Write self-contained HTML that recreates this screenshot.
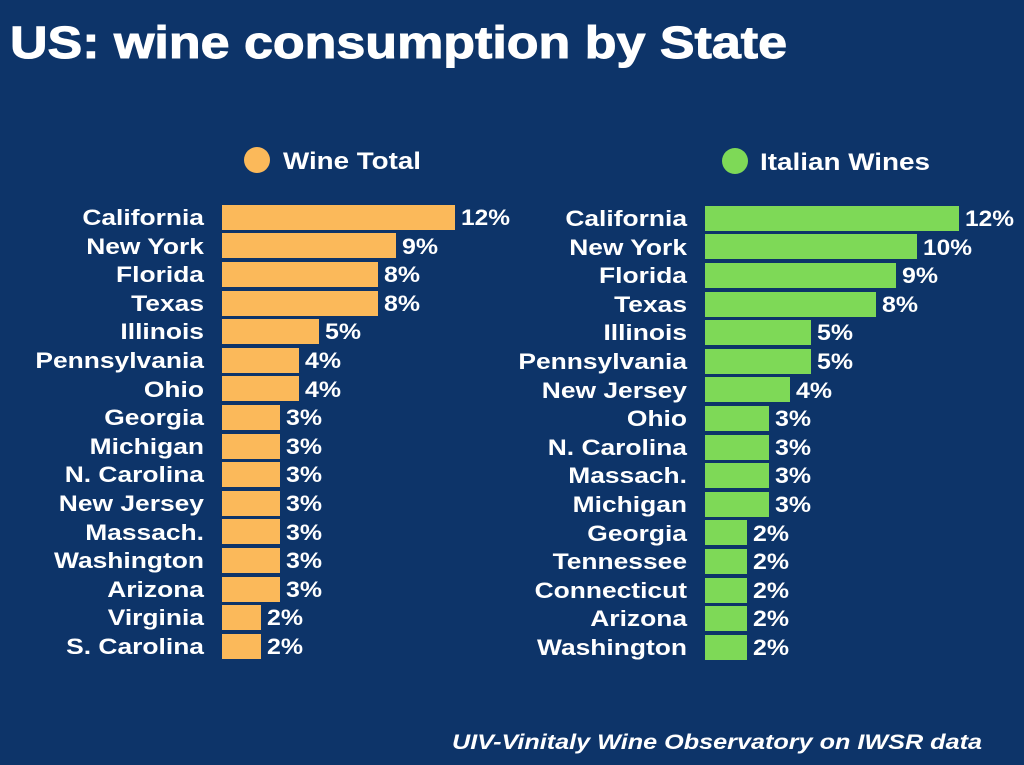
<!DOCTYPE html>
<html><head><meta charset="utf-8"><style>
html,body{margin:0;padding:0;background:#0d3469;}
svg{display:block;font-family:"Liberation Sans",sans-serif;font-weight:bold;}
</style></head><body>
<svg width="1024" height="765" viewBox="0 0 1024 765">
<rect width="1024" height="765" fill="#0d3469"/>
<text x="10" y="58" fill="#fff" stroke="#fff" stroke-width="1" font-size="45" textLength="777" lengthAdjust="spacingAndGlyphs">US: wine consumption by State</text>
<circle cx="257" cy="160" r="13" fill="#fbb95a"/>
<text x="283" y="169" fill="#fff" font-size="24" textLength="138" lengthAdjust="spacingAndGlyphs">Wine Total</text>
<circle cx="735" cy="161" r="13" fill="#7ed957"/>
<text x="760" y="170" fill="#fff" font-size="24" textLength="170" lengthAdjust="spacingAndGlyphs">Italian Wines</text>
<g font-size="22" fill="#fff" text-anchor="end">
<g transform="translate(204,0) scale(1.2,1) translate(-204,0)">
<text x="204" y="225">California</text>
<text x="204" y="254">New York</text>
<text x="204" y="282">Florida</text>
<text x="204" y="311">Texas</text>
<text x="204" y="339">Illinois</text>
<text x="204" y="368">Pennsylvania</text>
<text x="204" y="397">Ohio</text>
<text x="204" y="425">Georgia</text>
<text x="204" y="454">Michigan</text>
<text x="204" y="482">N. Carolina</text>
<text x="204" y="511">New Jersey</text>
<text x="204" y="540">Massach.</text>
<text x="204" y="568">Washington</text>
<text x="204" y="597">Arizona</text>
<text x="204" y="625">Virginia</text>
<text x="204" y="654">S. Carolina</text>
</g>
<g transform="translate(687,0) scale(1.2,1) translate(-687,0)">
<text x="687" y="226">California</text>
<text x="687" y="255">New York</text>
<text x="687" y="283">Florida</text>
<text x="687" y="312">Texas</text>
<text x="687" y="340">Illinois</text>
<text x="687" y="369">Pennsylvania</text>
<text x="687" y="398">New Jersey</text>
<text x="687" y="426">Ohio</text>
<text x="687" y="455">N. Carolina</text>
<text x="687" y="483">Massach.</text>
<text x="687" y="512">Michigan</text>
<text x="687" y="541">Georgia</text>
<text x="687" y="569">Tennessee</text>
<text x="687" y="598">Connecticut</text>
<text x="687" y="626">Arizona</text>
<text x="687" y="655">Washington</text>
</g>
</g>
<g fill="#fbb95a">
<rect x="222" y="205" width="233" height="25"/>
<rect x="222" y="233" width="174" height="25"/>
<rect x="222" y="262" width="156" height="25"/>
<rect x="222" y="291" width="156" height="25"/>
<rect x="222" y="319" width="97" height="25"/>
<rect x="222" y="348" width="77" height="25"/>
<rect x="222" y="376" width="77" height="25"/>
<rect x="222" y="405" width="58" height="25"/>
<rect x="222" y="434" width="58" height="25"/>
<rect x="222" y="462" width="58" height="25"/>
<rect x="222" y="491" width="58" height="25"/>
<rect x="222" y="519" width="58" height="25"/>
<rect x="222" y="548" width="58" height="25"/>
<rect x="222" y="577" width="58" height="25"/>
<rect x="222" y="605" width="39" height="25"/>
<rect x="222" y="634" width="39" height="25"/>
</g>
<g fill="#7ed957">
<rect x="705" y="206" width="254" height="25"/>
<rect x="705" y="234" width="212" height="25"/>
<rect x="705" y="263" width="191" height="25"/>
<rect x="705" y="292" width="171" height="25"/>
<rect x="705" y="320" width="106" height="25"/>
<rect x="705" y="349" width="106" height="25"/>
<rect x="705" y="377" width="85" height="25"/>
<rect x="705" y="406" width="64" height="25"/>
<rect x="705" y="435" width="64" height="25"/>
<rect x="705" y="463" width="64" height="25"/>
<rect x="705" y="492" width="64" height="25"/>
<rect x="705" y="520" width="42" height="25"/>
<rect x="705" y="549" width="42" height="25"/>
<rect x="705" y="578" width="42" height="25"/>
<rect x="705" y="606" width="42" height="25"/>
<rect x="705" y="635" width="42" height="25"/>
</g>
<g font-size="22" fill="#fff">
<text x="461" y="225" textLength="49" lengthAdjust="spacingAndGlyphs">12%</text>
<text x="402" y="254" textLength="36" lengthAdjust="spacingAndGlyphs">9%</text>
<text x="384" y="282" textLength="36" lengthAdjust="spacingAndGlyphs">8%</text>
<text x="384" y="311" textLength="36" lengthAdjust="spacingAndGlyphs">8%</text>
<text x="325" y="339" textLength="36" lengthAdjust="spacingAndGlyphs">5%</text>
<text x="305" y="368" textLength="36" lengthAdjust="spacingAndGlyphs">4%</text>
<text x="305" y="397" textLength="36" lengthAdjust="spacingAndGlyphs">4%</text>
<text x="286" y="425" textLength="36" lengthAdjust="spacingAndGlyphs">3%</text>
<text x="286" y="454" textLength="36" lengthAdjust="spacingAndGlyphs">3%</text>
<text x="286" y="482" textLength="36" lengthAdjust="spacingAndGlyphs">3%</text>
<text x="286" y="511" textLength="36" lengthAdjust="spacingAndGlyphs">3%</text>
<text x="286" y="540" textLength="36" lengthAdjust="spacingAndGlyphs">3%</text>
<text x="286" y="568" textLength="36" lengthAdjust="spacingAndGlyphs">3%</text>
<text x="286" y="597" textLength="36" lengthAdjust="spacingAndGlyphs">3%</text>
<text x="267" y="625" textLength="36" lengthAdjust="spacingAndGlyphs">2%</text>
<text x="267" y="654" textLength="36" lengthAdjust="spacingAndGlyphs">2%</text>
<text x="965" y="226" textLength="49" lengthAdjust="spacingAndGlyphs">12%</text>
<text x="923" y="255" textLength="49" lengthAdjust="spacingAndGlyphs">10%</text>
<text x="902" y="283" textLength="36" lengthAdjust="spacingAndGlyphs">9%</text>
<text x="882" y="312" textLength="36" lengthAdjust="spacingAndGlyphs">8%</text>
<text x="817" y="340" textLength="36" lengthAdjust="spacingAndGlyphs">5%</text>
<text x="817" y="369" textLength="36" lengthAdjust="spacingAndGlyphs">5%</text>
<text x="796" y="398" textLength="36" lengthAdjust="spacingAndGlyphs">4%</text>
<text x="775" y="426" textLength="36" lengthAdjust="spacingAndGlyphs">3%</text>
<text x="775" y="455" textLength="36" lengthAdjust="spacingAndGlyphs">3%</text>
<text x="775" y="483" textLength="36" lengthAdjust="spacingAndGlyphs">3%</text>
<text x="775" y="512" textLength="36" lengthAdjust="spacingAndGlyphs">3%</text>
<text x="753" y="541" textLength="36" lengthAdjust="spacingAndGlyphs">2%</text>
<text x="753" y="569" textLength="36" lengthAdjust="spacingAndGlyphs">2%</text>
<text x="753" y="598" textLength="36" lengthAdjust="spacingAndGlyphs">2%</text>
<text x="753" y="626" textLength="36" lengthAdjust="spacingAndGlyphs">2%</text>
<text x="753" y="655" textLength="36" lengthAdjust="spacingAndGlyphs">2%</text>
</g>
<text x="452" y="749" fill="#fff" font-size="21" font-style="italic" textLength="530" lengthAdjust="spacingAndGlyphs">UIV-Vinitaly Wine Observatory on IWSR data</text>
</svg>
</body></html>
